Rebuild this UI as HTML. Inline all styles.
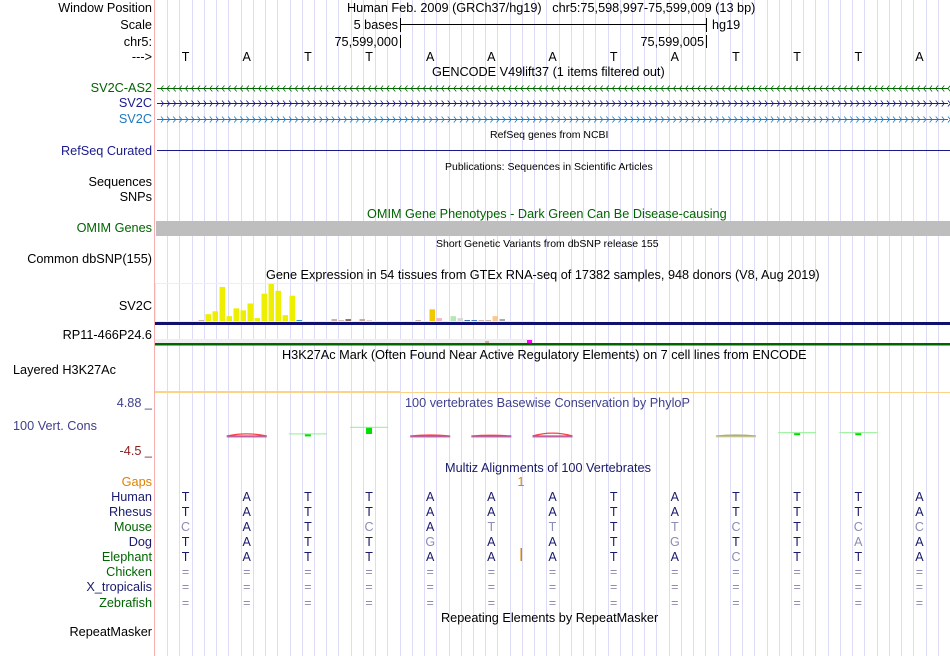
<!DOCTYPE html>
<html><head><meta charset="utf-8">
<style>
html,body{margin:0;padding:0;background:#fff;}
body{width:950px;height:656px;position:relative;overflow:hidden;font-family:"Liberation Sans",sans-serif;font-size:12.7px;color:#000;}
.lbl{position:absolute;right:798px;white-space:nowrap;text-align:right;line-height:14px;}
.t{position:absolute;white-space:nowrap;line-height:14px;}
.sm{font-size:10.5px;}
svg{position:absolute;left:0;top:0;}
</style></head>
<body>
<svg id="bg" width="950" height="656"></svg>

<div class="lbl" style="top:1px">Window Position</div>
<div class="lbl" style="top:18px">Scale</div>
<div class="lbl" style="top:35px">chr5:</div>
<div class="lbl" style="top:50px">---&gt;</div>
<div class="lbl" style="top:81px;color:#006400">SV2C-AS2</div>
<div class="lbl" style="top:96px;color:#1a1a8c">SV2C</div>
<div class="lbl" style="top:112px;color:#1e78c0">SV2C</div>
<div class="lbl" style="top:144px;color:#1a1a8c">RefSeq Curated</div>
<div class="lbl" style="top:175px">Sequences</div>
<div class="lbl" style="top:190px">SNPs</div>
<div class="lbl" style="top:221px;color:#006400">OMIM Genes</div>
<div class="lbl" style="top:252px">Common dbSNP(155)</div>
<div class="lbl" style="top:299px">SV2C</div>
<div class="lbl" style="top:328px">RP11-466P24.6</div>
<div class="t" style="top:363px;left:13px">Layered H3K27Ac</div>
<div class="lbl" style="top:396px;color:#40408c">4.88 _</div>
<div class="t" style="top:419px;color:#40408c;left:13px">100 Vert. Cons</div>
<div class="lbl" style="top:444px;color:#8c2020">-4.5 _</div>
<div class="lbl" style="top:475px;color:#e08000">Gaps</div>
<div class="lbl" style="top:490px;color:#1a1a6c">Human</div>
<div class="lbl" style="top:505px;color:#1a1a6c">Rhesus</div>
<div class="lbl" style="top:520px;color:#006400">Mouse</div>
<div class="lbl" style="top:535px;color:#1a1a6c">Dog</div>
<div class="lbl" style="top:550px;color:#006400">Elephant</div>
<div class="lbl" style="top:565px;color:#006400">Chicken</div>
<div class="lbl" style="top:580px;color:#1a1a6c">X_tropicalis</div>
<div class="lbl" style="top:596px;color:#006400">Zebrafish</div>
<div class="lbl" style="top:625px">RepeatMasker</div>

<div class="t" style="top:1px;left:347px">Human Feb. 2009 (GRCh37/hg19)&nbsp;&nbsp;&nbsp;chr5:75,598,997-75,599,009 (13 bp)</div>
<div class="t" style="top:18px;right:552px">5 bases</div>
<div class="t" style="top:18px;left:712px">hg19</div>
<div class="t" style="top:35px;right:552px">75,599,000</div>
<div class="t" style="top:35px;right:246px">75,599,005</div>
<div class="t" style="top:65px;left:432px">GENCODE V49lift37 (1 items filtered out)</div>
<div class="t sm" style="top:128px;left:490px">RefSeq genes from NCBI</div>
<div class="t sm" style="top:160px;left:445px">Publications: Sequences in Scientific Articles</div>
<div class="t" style="top:207px;left:367px;color:#006400">OMIM Gene Phenotypes - Dark Green Can Be Disease-causing</div>
<div class="t sm" style="top:237px;left:436px">Short Genetic Variants from dbSNP release 155</div>
<div class="t" style="top:268px;left:266px">Gene Expression in 54 tissues from GTEx RNA-seq of 17382 samples, 948 donors (V8, Aug 2019)</div>
<div class="t" style="top:348px;left:282px">H3K27Ac Mark (Often Found Near Active Regulatory Elements) on 7 cell lines from ENCODE</div>
<div class="t" style="top:396px;left:405px;color:#40408c">100 vertebrates Basewise Conservation by PhyloP</div>
<div class="t" style="top:461px;left:445px;color:#1a1a6c">Multiz Alignments of 100 Vertebrates</div>
<div class="t" style="top:611px;left:441px">Repeating Elements by RepeatMasker</div>

<script>
const bases=["T","A","T","T","A","A","A","T","A","T","T","T","A"];
const mouse=["C","A","T","C","A","T","T","T","T","C","T","C","C"];
const mouseGray=[1,0,0,1,0,1,1,0,1,1,0,1,1];
const dog=["T","A","T","T","G","A","A","T","G","T","T","A","A"];
const dogGray=[0,0,0,0,1,0,0,0,1,0,0,1,0];
const eleph=["T","A","T","T","A","A","A","T","A","C","T","T","A"];
const elephGray=[0,0,0,0,0,0,0,0,0,1,0,0,0];
const gtexValues=[0,0,0,0,0,0,1,7,10,35,5,13,11,18,3,28,38,31,6,26,1,0,0,0,0,2,1,2,0,2,1,0,0,0,0,0,0,1,0,12,3,0,5,3,1,1,1,1,5,2,0,0,0,0];
const gtexColors=["#ccc","#ccc","#ccc","#ccc","#ccc","#ccc","#c8b4a0","#eeee00","#eeee00","#eeee00","#eeee00","#eeee00","#eeee00","#eeee00","#eeee00","#eeee00","#eeee00","#eeee00","#eeee00","#eeee00","#3399bb","#ccc","#ccc","#ccc","#ccc","#c8b09a","#d8c0b0","#8c7060","#ccc","#c8a890","#e0d0c8","#ccc","#ccc","#ccc","#ccc","#ccc","#ccc","#c0b0a0","#ccc","#f2c800","#f8b4c8","#ccc","#b4e8b4","#d8d8d8","#4070b0","#4080c8","#c8b8a8","#c8b8a8","#fcc890","#a8a8a8","#ccc","#ccc","#ccc","#ccc"];
const phylop=[0,-0.6,0.1,1.2,-0.3,-0.2,-0.8,0,0,-0.3,0.3,0.3,0];

const NS="http://www.w3.org/2000/svg";
const svg=document.getElementById('bg');
const X0=155,W=795,BW=W/bases.length;
const bx=i=>X0+BW*(i+0.5);
function mk(tag,attrs,parent){const e=document.createElementNS(NS,tag);for(const k in attrs)e.setAttribute(k,attrs[k]);(parent||svg).appendChild(e);return e;}

for(let k=1;k<65;k++){const x=Math.round(X0+k*W/65)+0.5;
 const l=mk('line',{x1:x,y1:0,x2:x,y2:656,stroke:'#dcdcf6','stroke-width':1});
 
 }
const sep=mk('line',{x1:154.5,y1:0,x2:154.5,y2:656,stroke:'#f4b0b0','stroke-width':1});



mk('line',{x1:400,y1:24.5,x2:706,y2:24.5,stroke:'#000'});
mk('line',{x1:400.5,y1:18,x2:400.5,y2:32,stroke:'#000'});
mk('line',{x1:706.5,y1:18,x2:706.5,y2:32,stroke:'#000'});
mk('line',{x1:400.5,y1:35,x2:400.5,y2:48,stroke:'#000'});
mk('line',{x1:706.5,y1:35,x2:706.5,y2:48,stroke:'#000'});

function txt(x,y,s,fill,name){const t=mk('text',{x:x,y:y,'text-anchor':'middle','font-family':'Liberation Sans, sans-serif','font-size':12.5,fill:fill});t.textContent=s;
 
 return t;}
bases.forEach((b,i)=>txt(bx(i),61,b,'#000','base-letter'));

function gene(y,col,dir){mk('line',{x1:157,y1:y+0.5,x2:948,y2:y+0.5,stroke:col,'stroke-width':1});
 let d='';for(let x=161;x<948;x+=6.1){d+=dir<0?`M${x+2.5},${y-2.5}L${x},${y+0.5}L${x+2.5},${y+3.5}`:`M${x},${y-2.5}L${x+2.5},${y+0.5}L${x},${y+3.5}`;}
 const p=mk('path',{d:d,stroke:col,fill:'none','stroke-width':0.8});
 
 }
gene(88,'#006400',-1);gene(103,'#1a1a8c',1);gene(119,'#1e78c0',1);
mk('line',{x1:157,y1:150.5,x2:950,y2:150.5,stroke:'#1a1a8c'});
const om=mk('rect',{x:156,y:221,width:794,height:15,fill:'#bebebe'});



const gBase=321,gMax=38,gH=37;
mk('rect',{x:155.5,y:283.5,width:378,height:38,fill:'none',stroke:'#eeeeee'});
const gy=v=>gBase-v/gMax*gH;
gtexValues.forEach((v,i)=>{if(v<=0)return;
 const r=mk('rect',{x:155+7*i+1.5,y:gy(v),width:5.5,height:gBase-gy(v),fill:gtexColors[i]});
 
 });
mk('rect',{x:155,y:322,width:795,height:3,fill:'#101070'});
mk('rect',{x:155,y:339,width:378,height:4,fill:'#eeeeee'});
mk('rect',{x:485,y:341,width:4,height:2,fill:'#c8b09a'});
mk('rect',{x:527,y:340,width:5,height:3,fill:'#ff00ff'});
mk('rect',{x:155,y:343,width:795,height:2.5,fill:'#006400'});

mk('rect',{x:155,y:391,width:245,height:2,fill:'#fcd488'});
mk('line',{x1:400,y1:392.5,x2:950,y2:392.5,stroke:'#fcd488'});

const zero=435,pScale=6;
phylop.forEach((v,i)=>{if(v===0)return;
 const x=bx(i);
 if(v>0){const l=mk('rect',{x:x-19,y:zero-v*pScale-1,width:38,height:1,fill:'#90f090'});
  
  
  mk('rect',{x:x-3,y:zero-v*pScale,width:6,height:Math.max(2,v*pScale-1),fill:'#00e000'});}
 else{const col=i===9?'#b0b070':'#ff4040';
  const r=mk('path',{d:`M${x-20},${zero+1}Q${x},${zero+1+v*pScale*1.2} ${x+20},${zero+1}Z`,fill:'none',stroke:col,'stroke-width':1.2});
  
  
  mk('rect',{x:x-20,y:zero+1.5,width:40,height:1,fill:i===9?'#d8d8b0':'#8080ff'});}
});

txt(521,486,'1','#e08000','gap-count');
mk('rect',{x:520.5,y:548,width:1.5,height:13,fill:'#e08000'});
const rows=[[bases,null,501],[bases,null,516],[mouse,mouseGray,531],[dog,dogGray,546],[eleph,elephGray,561]];
rows.forEach(r=>r[0].forEach((b,i)=>txt(bx(i),r[2],b,r[1]&&r[1][i]?'#8c8cb4':'#1a1a6c','aligned-base')));
[576,591,607].forEach(y=>bases.forEach((b,i)=>txt(bx(i),y,'=','#8c8cb4','unaligned-marker')));
</script>
</body></html>
